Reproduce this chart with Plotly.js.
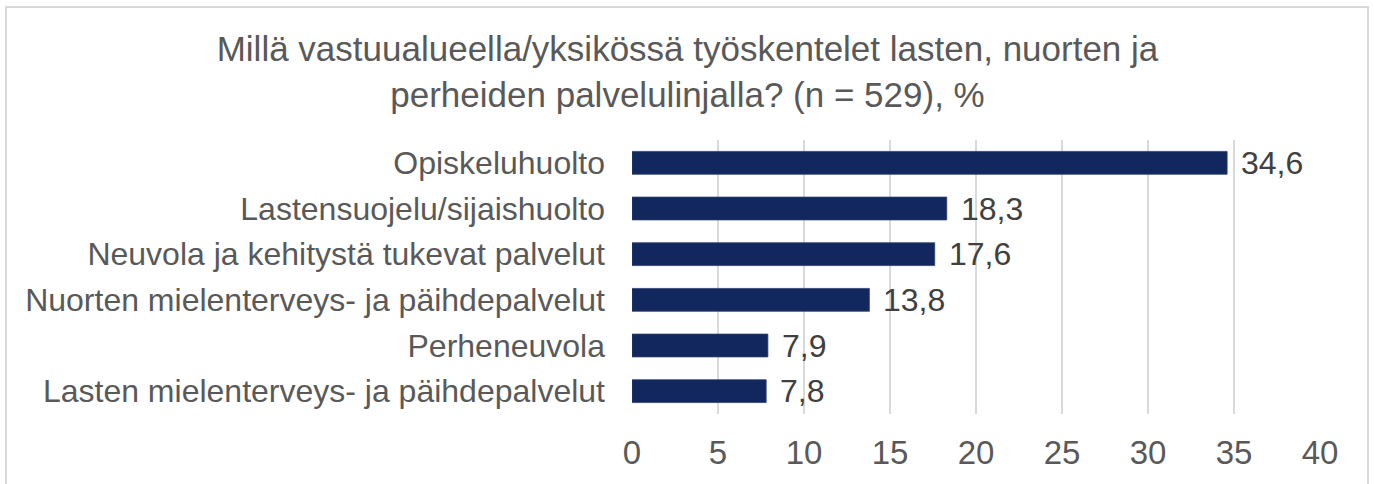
<!DOCTYPE html>
<html>
<head>
<meta charset="utf-8">
<script src="https://cdn.plot.ly/plotly-3.0.1.min.js"></script>
<style>
  html, body { margin: 0; padding: 0; background: #ffffff; }
  #wrap { position: relative; width: 1375px; height: 484px; overflow: hidden; }
  #chart { width: 1375px; height: 484px; }
  #frame { position: absolute; left: 5px; top: 6px; width: 1364px; height: 600px;
           border: 2px solid #d9d9d9; pointer-events: none; box-sizing: border-box; }
</style>
</head>
<body>
<div id="wrap">
  <div id="chart"></div>
  <div id="frame"></div>
</div>
<script>
const categories = [
  "Opiskeluhuolto",
  "Lastensuojelu/sijaishuolto",
  "Neuvola ja kehitystä tukevat palvelut",
  "Nuorten mielenterveys- ja päihdepalvelut",
  "Perheneuvola",
  "Lasten mielenterveys- ja päihdepalvelut"
];
const values = [34.6, 18.3, 17.6, 13.8, 7.9, 7.8];
const xTicks = [0, 5, 10, 15, 20, 25, 30, 35, 40];
const titleText = "Millä vastuualueella/yksikössä työskentelet lasten, nuorten ja<br>perheiden palvelulinjalla? (n = 529), %";

const FONT = "Liberation Sans, Arial, sans-serif";

const trace = {
  type: "bar",
  orientation: "h",
  x: values,
  y: categories,
  marker: { color: "#12275d", line: { color: "#2c3f70", width: 0.8 } },
  hoverinfo: "skip"
};

const annotations = values.map((v, i) => ({
  x: v,
  y: categories[i],
  xref: "x",
  yref: "y",
  text: v.toFixed(1).replace(".", ","),
  showarrow: false,
  xanchor: "left",
  yanchor: "middle",
  xshift: 12,
  font: { family: FONT, size: 32, color: "#404040" }
}));

const layout = {
  width: 1375,
  height: 484,
  margin: { l: 632, r: 55, t: 140, b: 70 },
  paper_bgcolor: "#ffffff",
  plot_bgcolor: "#ffffff",
  showlegend: false,
  bargap: 0.5,
  separators: ", ",
  font: { family: FONT, size: 32, color: "#595959" },
  title: {
    text: titleText,
    x: 0.5,
    xref: "container",
    xanchor: "center",
    y: 1 - 61 / 484,
    yref: "container",
    yanchor: "middle",
    font: { family: FONT, size: 35, color: "#595959" }
  },
  xaxis: {
    range: [0, 40],
    tickvals: xTicks,
    ticktext: xTicks.map(String),
    showgrid: true,
    gridcolor: "#d9d9d9",
    gridwidth: 2,
    zeroline: false,
    showline: false,
    ticks: "",
    ticklabelstandoff: 16,
    tickfont: { family: FONT, size: 33, color: "#595959" },
    fixedrange: true
  },
  yaxis: {
    autorange: "reversed",
    showgrid: false,
    zeroline: false,
    showline: false,
    ticks: "",
    ticklabelstandoff: 26,
    tickfont: { family: FONT, size: 32, color: "#595959" },
    fixedrange: true
  },
  annotations: annotations
};

Plotly.newPlot("chart", [trace], layout, { displayModeBar: false, staticPlot: true });
</script>
</body>
</html>
